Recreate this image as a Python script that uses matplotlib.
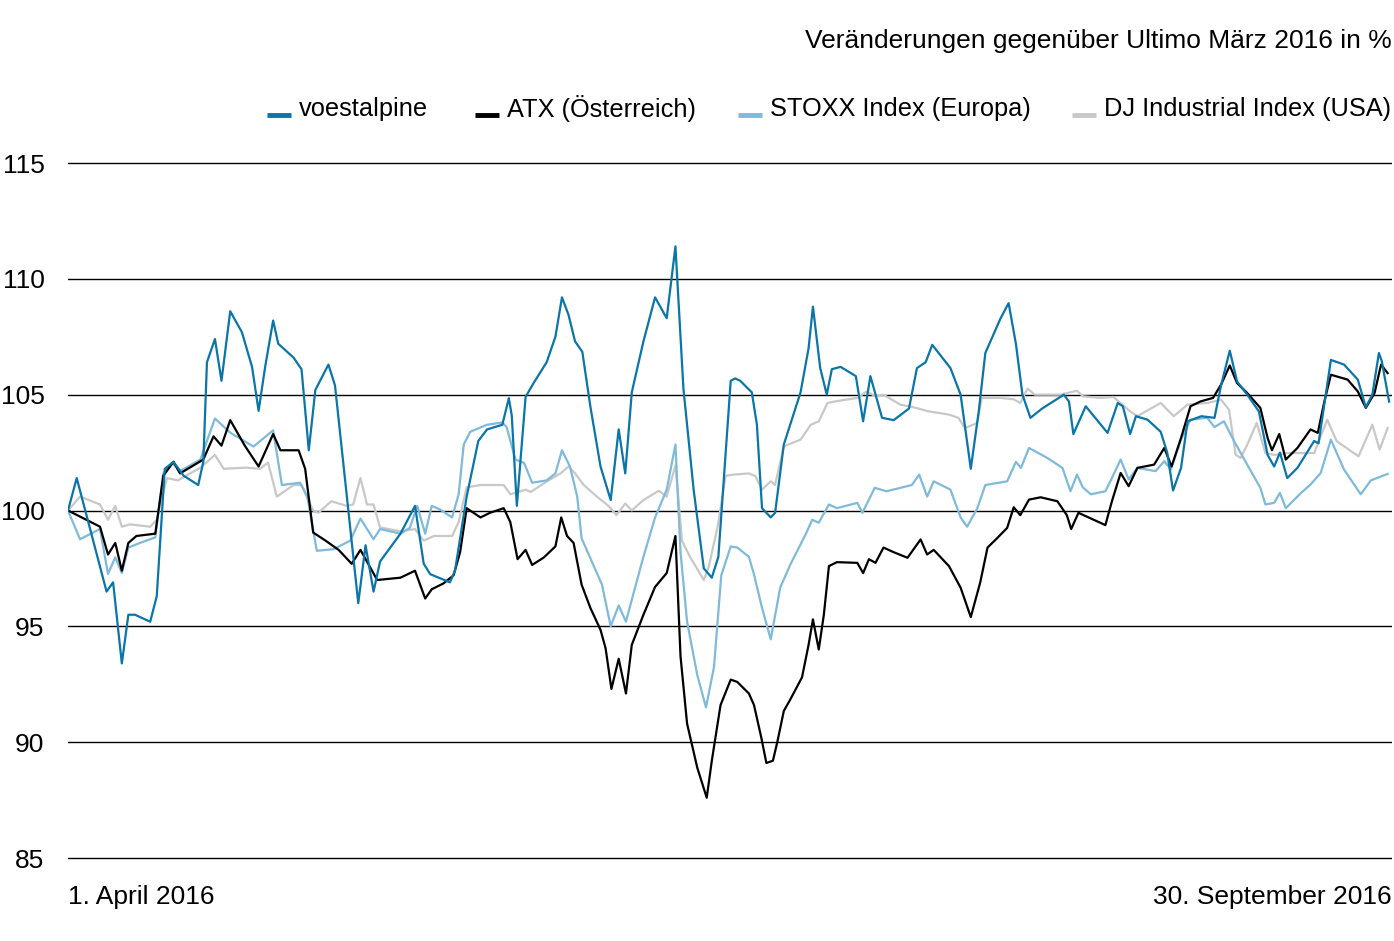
import matplotlib
matplotlib.use("Agg")
import matplotlib.pyplot as plt
from matplotlib.lines import Line2D

W, H = 1394, 941
FONT = ["Liberation Sans", "DejaVu Sans"]
FS = 19
FS_LEGEND = 18.3

# days since 1 April 2016, values indexed to 100 at end of March
voest_days = [0, 1.2, 5.3, 6.2, 7.4, 8.3, 9.2, 11.3, 12.2, 13.3, 14.5, 15.9, 17.9, 18.6, 19.1, 20.2,
              21.1, 22.3, 23.9, 25.3, 26.2, 27.1, 28.2, 28.9, 31.0, 32.1, 33.1, 34.0, 35.8, 36.7,
              39.9, 40.9, 42.0, 42.9, 45.7, 47.7, 48.9, 49.8, 52.5, 53.2, 54.8, 56.4, 57.6, 59.7,
              60.6, 61.0, 61.7, 62.9, 64.0, 65.8, 67.0, 67.9, 68.8, 69.7, 70.7, 71.8, 73.2, 74.6,
              75.7, 76.6, 77.5, 79.1, 80.7, 82.3, 83.5, 84.6, 86.0, 87.4, 88.5, 89.4, 91.1, 91.7,
              92.4, 94.0, 94.7, 95.4, 96.6, 97.2, 98.4, 100.7, 101.8, 102.4, 103.4, 104.3, 105.0,
              106.2, 108.3, 109.3, 110.3, 111.9, 113.5, 115.6, 116.7, 117.9, 118.8, 121.3, 122.7,
              124.1, 125.2, 126.1, 128.2, 129.3, 130.3, 131.2, 132.3, 133.9, 136.9, 137.6, 138.2,
              139.2, 139.9, 142.9, 144.3, 145.0, 146.0, 146.8, 148.4, 150.2, 151.1, 151.9, 153.0,
              153.9, 155.8, 157.6, 158.5, 159.7, 160.7, 162.1, 163.7, 164.9, 165.8, 166.6, 167.6,
              169.0, 171.3, 171.9, 172.9, 173.6, 175.4, 177.3, 178.4, 179.3, 180.2, 180.6, 181.6]
voest = [100.0, 101.4, 96.5, 96.9, 93.4, 95.5, 95.5, 95.2, 96.3, 101.8, 102.1, 101.5, 101.1, 102.1, 106.4, 107.4,
         105.6, 108.6, 107.7, 106.2, 104.3, 106.2, 108.2, 107.2, 106.6, 106.1, 102.6, 105.2, 106.3, 105.4,
         96.0, 98.5, 96.5, 97.8, 99.0, 100.2, 97.7, 97.25, 96.9, 97.4, 100.6, 103.0, 103.5, 103.7,
         104.85, 104.1, 100.2, 104.9, 105.5, 106.4, 107.5, 109.2, 108.45, 107.3, 106.85, 104.5, 101.9, 100.45,
         103.5, 101.6, 105.1, 107.3, 109.2, 108.3, 111.4, 105.25, 100.9, 97.5, 97.1, 98.0, 105.6, 105.7,
         105.6, 105.1, 103.7, 100.1, 99.7, 99.9, 102.85, 105.1, 107.0, 108.8, 106.15, 105.0, 106.1,
         106.2, 105.8, 103.85, 105.8, 104.0, 103.9, 104.4, 106.15, 106.4, 107.15, 106.15, 105.0,
         101.8, 104.3, 106.8, 108.3, 108.95, 107.2, 105.0, 104.0, 104.4, 105.0, 104.7, 103.3,
         104.0, 104.5, 103.35, 104.64, 104.5, 103.3, 104.07, 103.92, 103.4, 102.5, 100.86, 101.84,
         103.85, 104.07, 104.0, 105.4, 106.9, 105.57, 105.0, 104.28, 102.4, 101.9, 102.5, 101.4,
         101.84, 103.0, 102.9, 105.0, 106.5, 106.3, 105.65, 104.45, 105.0, 106.8, 106.44, 104.7]

atx_days = [0, 4.4, 5.5, 6.5, 7.4, 8.3, 9.4, 12.0, 13.1, 14.5, 15.4, 18.6, 20.0, 21.1, 22.3, 24.3,
            26.2, 28.2, 29.2, 31.7, 32.6, 33.7, 35.4, 37.2, 39.0, 40.2, 42.5, 45.7, 47.7, 49.1,
            50.0, 51.6, 53.0, 53.9, 54.8, 56.7, 58.0, 59.9, 60.8, 61.8, 62.9, 63.8, 65.4, 67.0,
            67.8, 68.6, 69.5, 70.6, 71.8, 73.2, 73.9, 74.7, 75.7, 76.7, 77.5, 79.1, 80.7, 82.3,
            83.5, 84.2, 85.1, 86.5, 87.8, 88.5, 89.7, 91.1, 92.0, 93.6, 94.3, 95.3, 96.0, 96.9,
            97.5, 98.4, 99.3, 100.9, 101.8, 102.4, 103.2, 103.9, 104.6, 105.7, 108.5, 109.3,
            110.1, 111.0, 112.1, 113.5, 115.4, 117.2, 118.1, 119.0, 121.1, 122.7, 124.1, 125.4,
            126.4, 127.7, 129.1, 130.0, 130.9, 132.1, 133.7, 136.0, 137.3, 137.9, 138.9, 141.0,
            142.6, 143.5, 144.7, 145.8, 147.0, 149.3, 150.7, 151.7, 153.0, 154.3, 155.7, 157.4,
            158.5, 159.7, 160.7, 162.1, 163.9, 164.9, 165.5, 166.5, 167.4, 169.0, 170.8, 171.8,
            172.7, 173.6, 175.9, 177.3, 178.4, 179.6, 180.5, 181.4]
atx = [100.0, 99.3, 98.1, 98.6, 97.4, 98.6, 98.9, 99.0, 101.5, 102.1, 101.6, 102.2, 103.2, 102.8, 103.9, 102.8,
       101.9, 103.3, 102.6, 102.6, 101.8, 99.05, 98.7, 98.3, 97.7, 98.3, 97.0, 97.1, 97.4, 96.2,
       96.6, 96.85, 97.2, 98.2, 100.1, 99.7, 99.9, 100.1, 99.5, 97.9, 98.3, 97.65, 97.97, 98.45,
       99.7, 98.9, 98.6, 96.8, 95.8, 94.85, 94.05, 92.3, 93.6, 92.1, 94.2, 95.5, 96.7, 97.3,
       98.9, 93.7, 90.8, 88.9, 87.6, 89.2, 91.6, 92.7, 92.6, 92.1, 91.6, 90.2, 89.1, 89.2,
       90.0, 91.35, 91.85, 92.8, 94.2, 95.3, 94.0, 95.5, 97.6, 97.77, 97.74, 97.3,
       97.9, 97.74, 98.4, 98.2, 97.96, 98.75, 98.1, 98.3, 97.6, 96.67, 95.4, 96.9,
       98.4, 98.8, 99.25, 100.14, 99.8, 100.47, 100.57, 100.4, 99.8, 99.2, 99.9, 99.6,
       99.37, 100.4, 101.62, 101.05, 101.84, 101.98, 102.7, 101.9, 103.13, 104.5, 104.71, 104.86,
       105.43, 106.26, 105.5, 105.07, 104.43, 103.13, 102.6, 103.3, 102.2, 102.7, 103.5, 103.35,
       104.7, 105.86, 105.65, 105.14, 104.43, 105.07, 106.3, 105.93]

stoxx_days = [0, 1.65, 4.4, 5.5, 6.5, 7.4, 8.3, 9.9, 12.0, 13.1, 14.3, 15.4, 18.2, 20.2, 22.3, 25.5,
              28.2, 29.4, 31.9, 32.9, 34.2, 36.5, 38.8, 40.2, 42.0, 42.9, 45.7, 47.0, 48.0, 49.1,
              50.0, 51.1, 52.8, 53.7, 54.4, 55.3, 57.6, 59.7, 60.3, 61.5, 62.7, 63.8, 65.8, 67.0,
              67.9, 69.0, 70.0, 70.6, 72.0, 73.4, 74.6, 75.7, 76.7, 77.8, 79.1, 80.7, 82.3, 83.5,
              84.2, 85.1, 86.5, 87.7, 88.8, 89.8, 91.1, 92.0, 93.6, 94.3, 95.4, 96.6, 97.9, 99.3,
              101.4, 102.3, 103.2, 104.6, 105.7, 108.5, 109.2, 110.9, 112.5, 116.0, 117.0, 118.1,
              119.0, 121.3, 122.7, 123.6, 125.0, 126.1, 129.1, 130.3, 131.0, 132.1, 134.6, 136.7,
              137.8, 138.7, 139.5, 140.6, 142.6, 143.5, 144.7, 145.8, 147.0, 149.5, 150.7, 151.6,
              153.0, 154.3, 156.6, 157.6, 158.9, 160.3, 162.1, 163.9, 164.6, 165.8, 166.6, 167.4,
              169.5, 170.8, 172.2, 173.6, 175.4, 177.7, 179.1, 181.4]
stoxx = [100.0, 98.76, 99.2, 97.26, 97.98, 97.3, 98.4, 98.6, 98.84, 101.6, 102.07, 101.7, 102.2, 103.97, 103.36, 102.76,
         103.46, 101.1, 101.2, 100.6, 98.26, 98.33, 98.7, 99.65, 98.76, 99.2, 99.0, 99.25, 100.2, 99.0,
         100.2, 100.05, 99.7, 100.7, 102.85, 103.4, 103.7, 103.8, 103.6, 102.2, 102.05, 101.2, 101.3, 101.6,
         102.6, 101.9, 100.6, 98.8, 97.8, 96.8, 95.0, 95.9, 95.2, 96.5, 98.0, 99.7, 100.9, 102.85,
         98.2, 95.2, 92.9, 91.5, 93.25, 97.2, 98.45, 98.4, 98.0, 97.24, 95.8, 94.44, 96.67, 97.67,
         98.97, 99.6, 99.47, 100.26, 100.1, 100.33, 99.9, 100.98, 100.83, 101.1, 101.55, 100.6,
         101.26, 100.9, 99.7, 99.3, 100.1, 101.1, 101.26, 102.1, 101.84, 102.7, 102.27, 101.84,
         100.83, 101.55, 101.0, 100.7, 100.83, 101.4, 102.2, 101.34, 101.84, 101.7, 102.13, 101.77,
         103.06, 103.92, 104.0, 103.6, 103.85, 102.99, 101.98, 100.98, 100.26, 100.33, 100.76, 100.1,
         100.76, 101.12, 101.62, 103.06, 101.77, 100.7, 101.3, 101.58]

dj_days = [0, 1.65, 4.4, 5.5, 6.5, 7.4, 8.5, 11.3, 12.2, 13.6, 15.1, 18.2, 20.2, 21.4, 24.5, 26.4,
           27.5, 28.7, 31.0, 32.1, 33.7, 34.4, 36.2, 38.3, 39.2, 40.2, 41.1, 42.0, 42.9, 45.7,
           47.7, 48.9, 50.3, 52.8, 53.7, 54.8, 56.7, 59.9, 60.8, 61.9, 62.9, 63.6, 65.8, 67.7,
           68.8, 69.7, 70.9, 72.7, 74.3, 75.4, 76.6, 77.5, 79.1, 81.2, 82.3, 83.5, 84.4, 85.5,
           87.4, 88.1, 89.3, 90.4, 91.5, 93.6, 94.5, 95.4, 96.6, 97.2, 98.4, 100.7, 102.1, 103.2,
           104.4, 105.3, 108.5, 109.8, 111.0, 112.1, 114.4, 116.3, 118.3, 121.1, 122.4, 123.3,
           125.0, 125.6, 128.2, 130.0, 130.9, 131.9, 132.9, 136.4, 138.7, 139.5, 141.9, 143.7,
           146.0, 147.0, 150.2, 152.0, 153.9, 156.6, 158.5, 159.6, 160.5, 161.2, 162.1, 163.4,
           164.6, 165.8, 167.6, 171.3, 173.1, 174.4, 177.4, 179.3, 180.3, 181.4]
dj = [100.0, 100.6, 100.26, 99.6, 100.2, 99.3, 99.4, 99.3, 99.6, 101.4, 101.3, 101.85, 102.4, 101.8, 101.85, 101.8,
      102.07, 100.6, 101.1, 101.1, 100.0, 99.9, 100.4, 100.2, 100.26, 101.4, 100.26, 100.26, 99.27, 99.1,
      99.2, 98.7, 98.9, 98.9, 99.5, 101.0, 101.1, 101.1, 100.7, 100.8, 100.9, 100.8, 101.25, 101.6,
      101.9, 101.6, 101.1, 100.6, 100.2, 99.8, 100.3, 100.0, 100.45, 100.85, 100.6, 101.95, 98.7, 98.0,
      97.0, 97.6, 99.3, 101.5, 101.55, 101.6, 101.48, 100.9, 101.26, 101.1, 102.77, 103.06, 103.7, 103.85,
      104.64, 104.7, 104.86, 105.14, 104.93, 105.0, 104.57, 104.45, 104.28, 104.14, 104.0, 103.56,
      103.78, 104.86, 104.86, 104.8, 104.64, 105.26, 105.0, 105.0, 105.17, 104.93, 104.86, 104.9,
      104.28, 104.07, 104.64, 104.07, 104.57, 104.64, 104.78, 104.35, 102.41, 102.27, 102.84, 103.78,
      102.48, 102.4, 102.48, 102.48, 103.92, 102.99, 102.34, 103.7, 102.63, 103.56]

labels = ["voestalpine", "ATX (Österreich)", "STOXX Index (Europa)", "DJ Industrial Index (USA)"]
colors = ["#0a75a8", "#000000", "#7fbadb", "#c8c8c8"]
y_ticks = [85, 90, 95, 100, 105, 110, 115]


def px(x, y):
    return x / W, 1 - y / H


fig = plt.figure(figsize=(W / 100, H / 100), dpi=100)
fig.patch.set_facecolor("white")

# axes box: 85 -> y=858, 115 -> y=163 (0.2 pad each side so end gridlines aren't clipped)
y0, y1 = 84.8, 115.2
ppu = (858 - 163) / 30
ax_bottom = 1 - (858 + 0.2 * ppu) / H
ax_top = 1 - (163 - 0.2 * ppu) / H
ax = fig.add_axes([68 / W, ax_bottom, (1392 - 68) / W, ax_top - ax_bottom])
ax.set_xlim(0, 182)
ax.set_ylim(y0, y1)

for s in ax.spines.values():
    s.set_visible(False)
ax.set_xticks([])
ax.set_yticks(y_ticks)
ax.set_yticklabels([str(t) for t in y_ticks], family=FONT, fontsize=FS)
ax.tick_params(axis="y", length=0, pad=17)
ax.yaxis.grid(True, color="black", linewidth=1.0)
ax.set_axisbelow(True)

series = [(voest_days, voest), (atx_days, atx), (stoxx_days, stoxx), (dj_days, dj)]
zorders = [6, 5, 4, 3]
for (d, v), c, z in zip(series, colors, zorders):
    ax.plot(d, v, color=c, linewidth=1.6, zorder=z, solid_joinstyle="round")

# title and legend
fig.text(*px(1392, 41), "Veränderungen gegenüber Ultimo März 2016 in %", ha="right", va="center",
         family=FONT, fontsize=FS)
legend_x = [267, 475, 738, 1072]
for lx, lab, c in zip(legend_x, labels, colors):
    fig.add_artist(Line2D([lx / W, (lx + 24) / W], [1 - 115 / H, 1 - 115 / H],
                          transform=fig.transFigure, color=c, linewidth=3.5, solid_capstyle="butt"))
    fig.text(*px(lx + 32, 109), lab, ha="left", va="center", family=FONT, fontsize=FS_LEGEND)

fig.text(*px(68, 897), "1. April 2016", ha="left", va="center", family=FONT, fontsize=FS)
fig.text(*px(1392, 897), "30. September 2016", ha="right", va="center", family=FONT, fontsize=FS)

fig.savefig("out.png", dpi=100, facecolor="white")
